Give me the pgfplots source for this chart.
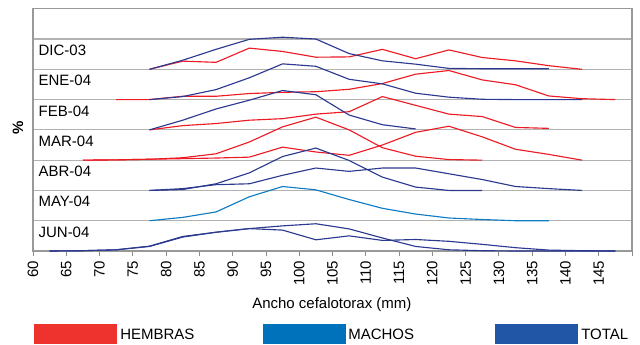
\documentclass[border=0pt]{standalone}
\usepackage{fontspec}
\setmainfont{Liberation Sans}
\usepackage{pgfplots}
\pgfplotsset{compat=1.18}
\definecolor{hred}{HTML}{ED1C24}
\definecolor{tnavy}{HTML}{2B3990}
\definecolor{mblue}{HTML}{0E7CC4}
\definecolor{legred}{HTML}{EE322E}
\definecolor{legblue}{HTML}{0072BC}
\definecolor{legnavy}{HTML}{2155A5}
\newcommand{\fs}{\fontsize{11.25}{13}\selectfont}
\begin{document}
\begin{tikzpicture}
\path[use as bounding box] (-24.75pt,-69.75pt) rectangle (455.25pt,188.25pt);
\begin{axis}[
  at={(0,0)}, anchor=south west,
  width=449.25pt, height=181.7pt, scale only axis,
  xmin=60, xmax=150, ymin=0, ymax=8,
  xtick={60,65,...,145},
  extra x ticks={150}, extra x tick labels={},
  xtick pos=lower, tick align=outside, major tick length=3.75pt,
  x tick style={black!45, line width=0.6pt},
  ytick={1,2,...,7}, yticklabels={}, ytick style={draw=none},
  ymajorgrids, major grid style={black!30, line width=0.9pt},
  axis line style={black!40, line width=0.8pt},
  /pgf/number format/assume math mode=true,
  xticklabel style={font=\fs, rotate=90, anchor=east},
  xlabel={Ancho cefalotorax (mm)},
  xlabel style={font=\fs, at={(rel axis cs:0.499,0)}, anchor=base, yshift=-42.75pt},
  ylabel={\%},
  ylabel style={font=\fs\bfseries, at={(rel axis cs:-0.025,0.508)}, anchor=center},
  every axis plot/.append style={line width=0.85pt},
  clip=false,
]
% DIC-03
\addplot[hred] coordinates {(77.5,6)(82.5,6.27)(87.5,6.23)(92.5,6.70)(97.5,6.59)(102.5,6.40)(107.5,6.41)(112.5,6.66)(117.5,6.35)(122.5,6.64)(127.5,6.39)(132.5,6.28)(137.5,6.12)(142.5,6)};
\addplot[tnavy] coordinates {(77.5,6)(82.5,6.30)(87.5,6.66)(92.5,6.99)(97.5,7.06)(102.5,7.0)(107.5,6.52)(112.5,6.28)(117.5,6.17)(122.5,6.03)(127.5,6.02)(132.5,6.02)(137.5,6.02)};
% ENE-04
\addplot[hred] coordinates {(72.5,5)(77.5,5)(82.5,5.11)(87.5,5.11)(92.5,5.2)(97.5,5.24)(102.5,5.26)(107.5,5.34)(112.5,5.53)(117.5,5.84)(122.5,5.96)(127.5,5.65)(132.5,5.49)(137.5,5.12)(142.5,5.03)(147.5,5)};
\addplot[tnavy] coordinates {(77.5,5)(82.5,5.10)(87.5,5.33)(92.5,5.72)(97.5,6.18)(102.5,6.10)(107.5,5.67)(112.5,5.52)(117.5,5.21)(122.5,5.08)(127.5,5.01)(132.5,5)(137.5,5)(142.5,5)};
% FEB-04
\addplot[hred] coordinates {(77.5,4)(82.5,4.14)(87.5,4.21)(92.5,4.32)(97.5,4.37)(102.5,4.52)(107.5,4.6)(112.5,5.10)(117.5,4.81)(122.5,4.52)(127.5,4.44)(132.5,4.08)(137.5,4.05)};
\addplot[tnavy] coordinates {(77.5,4)(82.5,4.32)(87.5,4.69)(92.5,4.98)(97.5,5.30)(102.5,5.16)(107.5,4.49)(112.5,4.17)(117.5,4.03)};
% MAR-04
\addplot[hred] coordinates {(67.5,3)(72.5,3.01)(77.5,3.03)(82.5,3.08)(87.5,3.21)(92.5,3.6)(97.5,4.1)(102.5,4.42)(107.5,4.0)(112.5,3.41)(117.5,3.13)(122.5,3.02)(127.5,3)};
\addplot[hred] coordinates {(67.5,3)(72.5,3.01)(77.5,3.03)(82.5,3.05)(87.5,3.07)(92.5,3.1)(97.5,3.43)(102.5,3.27)(107.5,3.16)(112.5,3.5)(117.5,3.92)(122.5,4.12)(127.5,3.77)(132.5,3.36)(137.5,3.19)(142.5,3)};
% ABR-04
\addplot[tnavy] coordinates {(77.5,2)(82.5,2.03)(87.5,2.22)(92.5,2.58)(97.5,3.12)(102.5,3.40)(107.5,2.99)(112.5,2.44)(117.5,2.11)(122.5,2)(127.5,2)};
\addplot[tnavy] coordinates {(77.5,2)(82.5,2.06)(87.5,2.19)(92.5,2.22)(97.5,2.5)(102.5,2.74)(107.5,2.63)(112.5,2.74)(117.5,2.74)(122.5,2.55)(127.5,2.36)(132.5,2.13)(137.5,2.06)(142.5,2)};
% MAY-04
\addplot[mblue] coordinates {(77.5,1)(82.5,1.11)(87.5,1.29)(92.5,1.79)(97.5,2.13)(102.5,2.02)(107.5,1.70)(112.5,1.41)(117.5,1.22)(122.5,1.09)(127.5,1.04)(132.5,1.0)(137.5,1.0)};
% JUN-04
\addplot[tnavy] coordinates {(62.5,0)(67.5,0.01)(72.5,0.04)(77.5,0.16)(82.5,0.48)(87.5,0.62)(92.5,0.74)(97.5,0.83)(102.5,0.90)(107.5,0.73)(112.5,0.43)(117.5,0.15)(122.5,0.04)(127.5,0.01)(132.5,0)(137.5,0)(142.5,0)(147.5,0)};
\addplot[tnavy] coordinates {(62.5,0)(67.5,0.01)(72.5,0.04)(77.5,0.15)(82.5,0.46)(87.5,0.62)(92.5,0.74)(97.5,0.69)(102.5,0.37)(107.5,0.5)(112.5,0.35)(117.5,0.38)(122.5,0.32)(127.5,0.22)(132.5,0.11)(137.5,0.03)(142.5,0.01)(147.5,0)};
% row labels
\node[anchor=base west, inner sep=0, font=\fs] at (axis cs:60.8,6.458) {DIC-03};
\node[anchor=base west, inner sep=0, font=\fs] at (axis cs:60.8,5.458) {ENE-04};
\node[anchor=base west, inner sep=0, font=\fs] at (axis cs:60.8,4.458) {FEB-04};
\node[anchor=base west, inner sep=0, font=\fs] at (axis cs:60.8,3.458) {MAR-04};
\node[anchor=base west, inner sep=0, font=\fs] at (axis cs:60.8,2.458) {ABR-04};
\node[anchor=base west, inner sep=0, font=\fs] at (axis cs:60.8,1.458) {MAY-04};
\node[anchor=base west, inner sep=0, font=\fs] at (axis cs:60.8,0.458) {JUN-04};
\end{axis}
% legend
\fill[legred] (0.75pt,-54.75pt) rectangle (63pt,-69.75pt);
\node[anchor=base west, inner sep=0, font=\fs] at (65.25pt,-66.3pt) {HEMBRAS};
\fill[legblue] (172.5pt,-54.75pt) rectangle (234.75pt,-69.75pt);
\node[anchor=base west, inner sep=0, font=\fs] at (236.25pt,-66.3pt) {MACHOS};
\fill[legnavy] (346.5pt,-54.75pt) rectangle (408.75pt,-69.75pt);
\node[anchor=base west, inner sep=0, font=\fs] at (411pt,-66.3pt) {TOTAL};
\end{tikzpicture}
\end{document}
